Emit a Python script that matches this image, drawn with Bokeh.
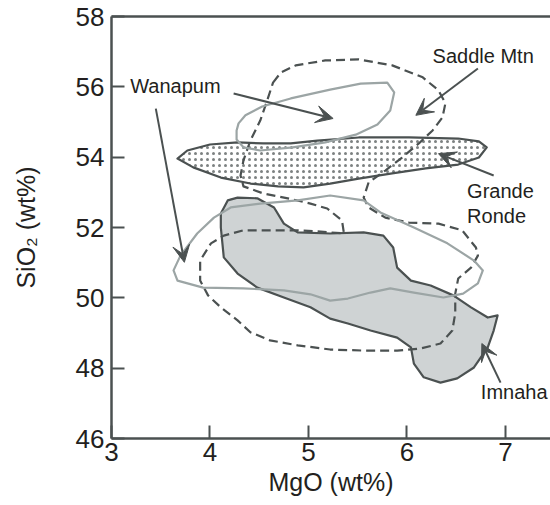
from bokeh.plotting import figure
from bokeh.models import LinearAxis, FixedTicker, Arrow, VeeHead, Range1d, ColumnDataSource
from bokeh.embed import file_html
from bokeh.resources import INLINE
from bokeh.core.properties import value

# ---- data: field outlines (MgO wt%, SiO2 wt%) ----
imnaha_mgo = [4.11, 4.18, 4.28, 4.48, 4.65, 4.75, 4.89, 5.22, 5.56, 5.76,
              5.86, 5.90, 6.04, 6.24, 6.47, 6.65, 6.82, 6.92, 6.88, 6.82,
              6.68, 6.51, 6.34, 6.17, 6.07, 6.04, 5.90, 5.63, 5.40, 5.22,
              5.02, 4.75, 4.48, 4.28, 4.14, 4.11]
imnaha_sio2 = [52.40, 52.77, 52.85, 52.83, 52.57, 52.11, 51.86, 51.83, 51.86, 51.77,
               51.43, 50.86, 50.49, 50.35, 50.07, 49.73, 49.44, 49.50, 49.07, 48.59,
               48.02, 47.71, 47.59, 47.74, 48.13, 48.59, 48.87, 49.07, 49.27, 49.41,
               49.73, 50.01, 50.29, 50.69, 51.15, 52.00]

grande_mgo = [3.67, 3.77, 4.00, 4.28, 4.54, 4.82, 5.09, 5.51, 6.02, 6.52, 6.73, 6.81,
              6.73, 6.52, 6.19, 5.85, 5.51, 5.22, 4.95, 4.69, 4.41, 4.11, 3.83]
grande_sio2 = [53.96, 54.19, 54.36, 54.42, 54.39, 54.39, 54.47, 54.56, 54.56, 54.53, 54.45, 54.28,
               53.99, 53.79, 53.68, 53.54, 53.39, 53.25, 53.14, 53.17, 53.25, 53.42, 53.71]

saddle_mgo = [4.64, 4.72, 4.87, 5.17, 5.51, 5.85, 6.16, 6.32, 6.39, 6.36, 6.26, 6.12,
              5.95, 5.78, 5.61, 5.56, 5.61, 5.78, 6.02, 6.32, 6.56, 6.70, 6.72, 6.65,
              6.52, 6.49, 6.49, 6.46, 6.34, 6.14, 5.90, 5.56, 5.22, 4.89, 4.61, 4.41,
              4.28, 4.11, 3.98, 3.90, 3.90, 4.01, 4.14, 4.34, 4.61, 4.89, 5.09, 5.36,
              5.34, 5.19, 5.02, 4.79, 4.54, 4.34, 4.31, 4.34, 4.41, 4.51, 4.58]
saddle_sio2 = [56.12, 56.41, 56.61, 56.75, 56.78, 56.61, 56.27, 55.90, 55.53, 55.13, 54.76, 54.39,
               53.99, 53.62, 53.28, 52.85, 52.57, 52.28, 52.14, 52.11, 51.92, 51.43, 51.20, 50.86,
               50.55, 50.12, 49.56, 49.07, 48.70, 48.56, 48.50, 48.50, 48.53, 48.65, 48.79, 49.02,
               49.36, 49.73, 50.07, 50.49, 51.06, 51.55, 51.77, 51.92, 51.92, 51.92, 51.89, 51.83,
               52.20, 52.54, 52.68, 52.83, 52.97, 53.17, 53.48, 53.91, 54.47, 55.04, 55.61]

wanapum_up_mgo = [4.27, 4.29, 4.36, 4.53, 4.82, 5.22, 5.53, 5.80, 5.87, 5.83, 5.70,
                  5.48, 5.17, 4.84, 4.51, 4.34, 4.27]
wanapum_up_sio2 = [54.76, 54.96, 55.19, 55.44, 55.67, 55.92, 56.09, 56.12, 55.84, 55.33, 54.93,
                   54.64, 54.42, 54.28, 54.19, 54.28, 54.50]

wanapum_lo_mgo = [3.63, 3.70, 3.87, 4.04, 4.21, 4.51, 4.89, 5.22, 5.56, 5.73, 6.07, 6.41,
                  6.68, 6.77, 6.72, 6.57, 6.37, 6.07, 5.83, 5.63, 5.40, 5.22, 5.02, 4.75,
                  4.34, 3.93, 3.67]
wanapum_lo_sio2 = [50.78, 51.20, 51.83, 52.28, 52.57, 52.68, 52.77, 52.91, 52.77, 52.43, 52.00, 51.55,
                   51.06, 50.78, 50.41, 50.12, 50.01, 50.15, 50.27, 50.15, 49.98, 49.92, 50.10, 50.21,
                   50.27, 50.29, 50.49]

# ---- labels and arrows ----
label_text = ["Wanapum", "Saddle Mtn", "Grande", "Ronde", "Imnaha"]
label_x = [3.19, 6.26, 6.61, 6.61, 6.75]
label_y = [56.01, 56.89, 53.05, 52.34, 47.31]

arrow_x0 = [4.24, 3.45, 6.72, 6.88, 6.95]
arrow_y0 = [55.81, 55.38, 56.52, 53.48, 47.59]
arrow_x1 = [5.25, 3.74, 6.09, 6.32, 6.76]
arrow_y1 = [55.10, 51.01, 55.19, 54.10, 48.70]

x_ticks = [3, 4, 5, 6, 7]
y_ticks = [46, 48, 50, 52, 54, 56, 58]

DARK = "#4b5151"
LIGHT = "#9ca5a5"
FILL = "#cfd3d4"
TXT = "#231f20"
FONT = "Liberation Sans"

p = figure(frame_width=439, frame_height=422,
           x_range=Range1d(3, 7.457), y_range=Range1d(46, 58),
           output_backend="svg", toolbar_location=None,
           min_border_left=111, min_border_right=0, min_border_top=16, min_border_bottom=0,
           x_axis_label="MgO (wt%)", y_axis_label="SiO₂ (wt%)")
p.grid.visible = False
p.outline_line_color = None

for ax in (p.xaxis[0], p.yaxis[0]):
    ax.axis_line_color = DARK
    ax.axis_line_width = 2.5
    ax.major_tick_in = 13
    ax.major_tick_out = 0
    ax.major_tick_line_width = 2
    ax.major_tick_line_color = DARK
    ax.minor_tick_line_color = None
    ax.major_label_text_font = FONT
    ax.major_label_text_font_size = "26px"
    ax.major_label_text_color = TXT
    ax.axis_label_text_font = FONT
    ax.axis_label_text_font_size = "25px"
    ax.axis_label_text_font_style = "normal"
    ax.axis_label_text_color = TXT

p.xaxis[0].ticker = FixedTicker(ticks=x_ticks)
p.yaxis[0].ticker = FixedTicker(ticks=y_ticks)
p.xaxis[0].major_label_standoff = 4
p.xaxis[0].axis_label_standoff = 4
p.yaxis[0].major_label_standoff = 7
p.yaxis[0].axis_label_standoff = 33

top = LinearAxis(ticker=FixedTicker(ticks=[]), axis_line_color=DARK, axis_line_width=2.5,
                 major_tick_line_color=None, minor_tick_line_color=None,
                 major_label_standoff=0, major_tick_in=0, major_tick_out=0)
p.add_layout(top, "above")

# fields
p.patch(imnaha_mgo, imnaha_sio2, fill_color=FILL, line_color=DARK, line_width=2.2, line_join="round")
p.patch(grande_mgo, grande_sio2, fill_color="white", hatch_pattern="dot", hatch_scale=6,
        hatch_weight=0.4, hatch_color="#7d8282", line_color=DARK, line_width=2.2, line_join="round")
p.patch(saddle_mgo, saddle_sio2, fill_color=None, line_color=DARK, line_width=2.2,
        line_dash="9 5", line_join="round")
p.patch(wanapum_up_mgo, wanapum_up_sio2, fill_color=None, line_color=LIGHT, line_width=2.2, line_join="round")
p.patch(wanapum_lo_mgo, wanapum_lo_sio2, fill_color=None, line_color=LIGHT, line_width=2.2, line_join="round")

# arrows
asrc = ColumnDataSource(dict(x0=arrow_x0, y0=arrow_y0, x1=arrow_x1, y1=arrow_y1))
p.add_layout(Arrow(source=asrc, x_start="x0", y_start="y0", x_end="x1", y_end="y1",
                   line_color=DARK, line_width=2,
                   end=VeeHead(size=17, fill_color=DARK, line_color=DARK, line_width=1)))

# labels
p.text(x=label_x, y=label_y, text=label_text, text_font=value(FONT),
       text_font_size=value("20px"), text_baseline="middle", text_align="left", text_color=TXT)

open("out.html", "w").write(file_html(p, INLINE))
